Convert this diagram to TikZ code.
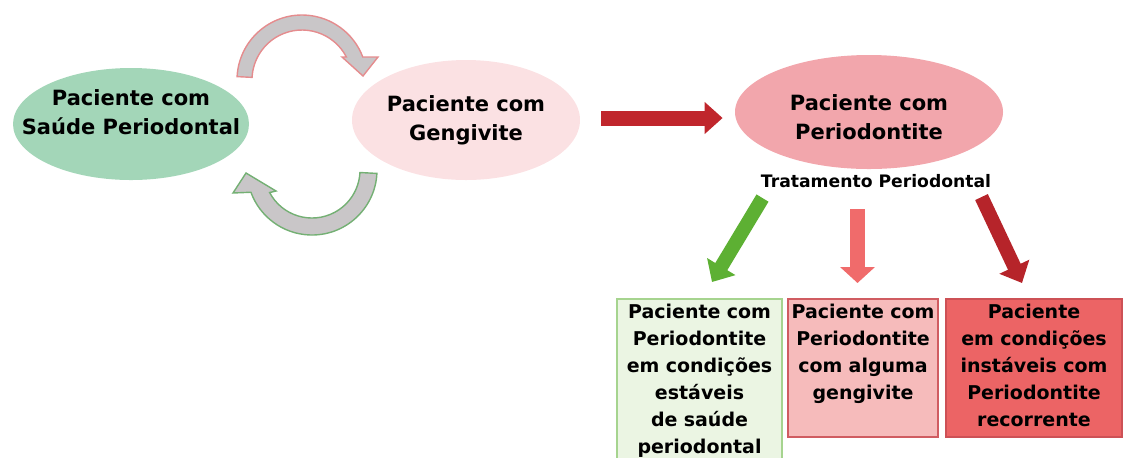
\documentclass[tikz,border=0pt]{standalone}
\usepackage{fontspec}
\setmainfont{DejaVu Sans}
\usetikzlibrary{shapes.geometric}
\usetikzlibrary{positioning}
\usetikzlibrary{arrows.meta}
\usetikzlibrary{calc}

\definecolor{saude}{HTML}{A3D6B8}
\definecolor{gengiv}{HTML}{FBE1E3}
\definecolor{perio}{HTML}{F2A6AC}
\definecolor{setavermelha}{HTML}{C0262C}
\definecolor{setaverde}{HTML}{5DB033}
\definecolor{setarosa}{HTML}{F06B6B}
\definecolor{cinza}{HTML}{C9C6C8}
\definecolor{bordarosa}{HTML}{E58C8E}
\definecolor{bordaverde}{HTML}{74B074}
\definecolor{caixaverde}{HTML}{EBF5E3}
\definecolor{caixarosa}{HTML}{F6BBBB}
\definecolor{caixavermelha}{HTML}{EC6465}

\begin{document}
\begin{tikzpicture}[x=0.5pt, y=-0.5pt,
    oval/.style={ellipse, inner sep=0pt},
    rotulo/.style={inner sep=0pt, align=center,
                   font=\fontsize{10.5}{14.5}\selectfont\bfseries},
    caixa/.style={draw, line width=0.8pt, anchor=north, align=center,
                  inner xsep=0.5pt, inner ysep=0pt, text height=10pt,
                  font=\fontsize{9.5}{13.5}\selectfont\bfseries},
    seta/.style={line width=7pt, -{Triangle[length=9pt, width=16pt]}},
    curva/.style={fill=cinza, line width=0.7pt}]
  \useasboundingbox (0,0) rectangle (1128,457);

  % estados do paciente
  \node[oval, fill=saude, minimum width=118pt, minimum height=56pt,
        label={[rotulo, yshift=6pt]center:Paciente com\\Saúde Periodontal}]
       (saude) at (131,124) {};
  \node[oval, fill=gengiv, minimum width=114pt, minimum height=60pt,
        label={[rotulo]center:Paciente com\\Gengivite}]
       (gengiv) at (466,120) {};
  \node[oval, fill=perio, minimum width=134pt, minimum height=57pt,
        label={[rotulo, yshift=-2.5pt]center:Paciente com\\Periodontite}]
       (perio) at (869,112) {};
  \node[inner sep=0pt, font=\fontsize{8.6}{10}\selectfont\bfseries]
       (trat) at (876,181) {Tratamento Periodontal};

  % resultados do tratamento
  \foreach \nome/\x/\w/\prof/\cor/\borda/\txt in {
      estavel/699.5/82.5/80/caixaverde/setaverde!55/{Paciente com\\Periodontite\\em condições\\estáveis\\de saúde\\periodontal},
      gengvt/863/75/59/caixarosa/setavermelha!75/{Paciente com\\Periodontite\\com alguma\\gengivite},
      instavel/1034/88/59/caixavermelha/setavermelha!80/{Paciente\\em condições\\instáveis com\\Periodontite\\recorrente}} {
    \node[caixa, fill=\cor, draw=\borda, minimum width=\w pt,
          text width=\w pt-1pt, text depth=\prof pt]
         (\nome) at (\x,298) {\txt};
  }

  % ciclo saude <-> gengivite
  \begin{scope}[shift={(302,80)}]
    \filldraw[curva, draw=bordarosa] (183:65)
      arc[start angle=183, end angle=339.3, radius=65]
      -- (76,-23) -- (61,-4) -- (40,-23) -- (332.6:50)
      arc[start angle=332.6, end angle=183, radius=50] -- cycle;
  \end{scope}
  \begin{scope}[shift={(312,170)}]
    \filldraw[curva, draw=bordaverde] (3:65)
      arc[start angle=3, end angle=160, radius=65]
      -- (-79,23) -- (-66,3) -- (-36,21) -- (152:48)
      arc[start angle=152, end angle=3, radius=48] -- cycle;
  \end{scope}

  % setas
  \draw[seta, line width=7.5pt, setavermelha,
        -{Triangle[length=9pt, width=15.5pt]}]
    ($(gengiv.east)+(21,-2)$) -- ($(perio.west |- gengiv.east)+(-12,-2)$);
  \draw[seta, setaverde]
    ([shift={(1pt,-5pt)}]trat.south west) -- ([shift={(6.25pt,8pt)}]estavel.north);
  \draw[seta, setarosa, line width=7.5pt, -{Triangle[length=8pt, width=17pt]}]
    ($(trat.south -| gengvt.north)+(-5.5,21)$) -- ($(gengvt.north)+(-5.5,-15)$);
  \draw[seta, setavermelha!95!black]
    ([shift={(-5pt,-4.5pt)}]trat.south east) -- ([shift={(-6pt,7.5pt)}]instavel.north);
\end{tikzpicture}
\end{document}
